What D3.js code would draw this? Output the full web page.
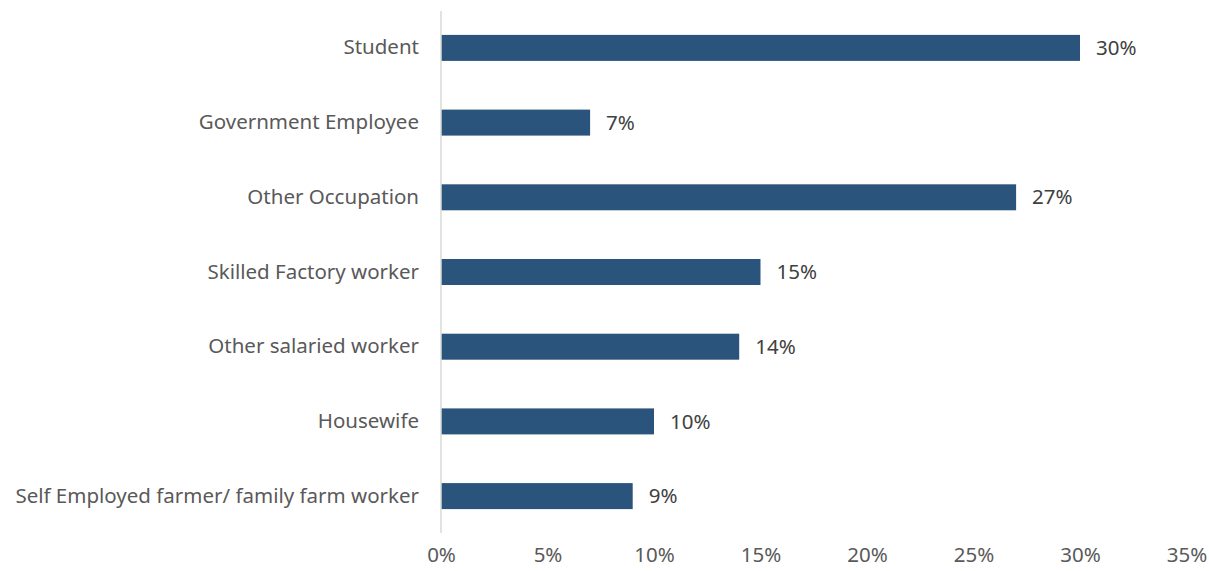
<!DOCTYPE html>
<html>
<head>
<meta charset="utf-8">
<script src="https://cdn.jsdelivr.net/npm/d3@7"></script>
<style>
  html, body { margin: 0; padding: 0; background: #fff; }
  svg { display: block; }
  text { font-family: "Noto Sans", "Open Sans", sans-serif; }
</style>
</head>
<body>
<svg id="chart" width="1209" height="571"></svg>
<script>
// Share of respondents by occupation
const categories = [
  "Student",
  "Government Employee",
  "Other Occupation",
  "Skilled Factory worker",
  "Other salaried worker",
  "Housewife",
  "Self Employed farmer/ family farm worker"
];
const values = [30, 7, 27, 15, 14, 10, 9];
const tickValues = [0, 5, 10, 15, 20, 25, 30, 35];

const svg = d3.select("#chart");
const x0 = 441, x1 = 1186.5;
const yTop = 11, yBottom = 533;
const fontSize = "20.5px";

const x = d3.scaleLinear().domain([0, 35]).range([x0, x1]);
const y = d3.scaleBand()
  .domain(categories)
  .range([yTop, yBottom])
  .paddingInner(0.652)
  .paddingOuter(0.32);

// bars
svg.append("g")
  .selectAll("rect")
  .data(categories)
  .join("rect")
  .attr("x", x(0))
  .attr("y", d => y(d))
  .attr("width", (d, i) => x(values[i]) - x(0))
  .attr("height", y.bandwidth())
  .attr("fill", "#2a547c");

// vertical axis line
svg.append("line")
  .attr("x1", x0).attr("x2", x0)
  .attr("y1", yTop).attr("y2", yBottom)
  .attr("stroke", "#d9d9d9")
  .attr("stroke-width", 1.5);

// category labels
const yAxis = d3.axisLeft(y).tickSize(0).tickPadding(22);
const gy = svg.append("g").attr("transform", `translate(${x0},0)`).call(yAxis);
gy.select(".domain").remove();
gy.selectAll("text")
  .attr("fill", "#595959")
  .style("font-size", fontSize);

// value labels
svg.append("g")
  .selectAll("text")
  .data(categories)
  .join("text")
  .attr("x", (d, i) => x(values[i]) + 16)
  .attr("y", d => y(d) + y.bandwidth() / 2)
  .attr("dy", "0.35em")
  .attr("fill", "#404040")
  .style("font-size", fontSize)
  .text((d, i) => values[i] + "%");

// horizontal tick labels
const xAxis = d3.axisBottom(x)
  .tickValues(tickValues)
  .tickSize(0)
  .tickPadding(0)
  .tickFormat(d => d + "%");
const gx = svg.append("g").attr("transform", `translate(0,555)`).call(xAxis);
gx.select(".domain").remove();
gx.selectAll("text")
  .attr("fill", "#595959")
  .style("font-size", fontSize)
  .attr("y", 0)
  .attr("dy", "0.35em");
</script>
</body>
</html>
